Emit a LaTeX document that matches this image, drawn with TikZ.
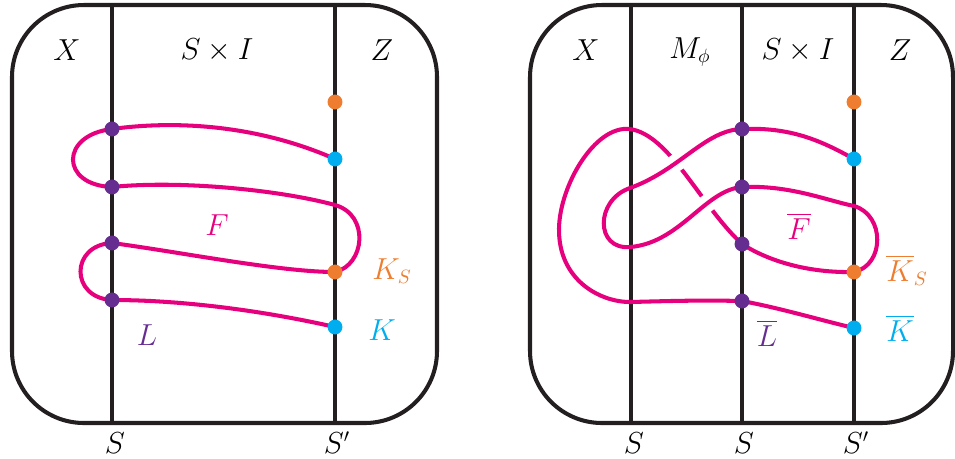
\documentclass[tikz,border=0pt]{standalone}
\usepackage{tikz}
\usetikzlibrary{positioning, calc}
\usepackage{amsmath}
\usepackage{xcolor}

\definecolor{knotpink}{HTML}{E6007E}
\definecolor{dotpurple}{HTML}{662D91}
\definecolor{dotcyan}{HTML}{00AEEF}
\definecolor{dotorange}{HTML}{EE7D2F}
\definecolor{linegray}{HTML}{231F20}

\pgfdeclarelayer{bg}
\pgfdeclarelayer{knot}
\pgfsetlayers{bg,knot,main}

\begin{document}
\begin{tikzpicture}[x=0.02cm, y=-0.02cm, font=\fontsize{16}{19}\selectfont,
    frame/.style={draw=linegray, line width=2.3pt, rounded corners=41pt},
    wall/.style={draw=linegray, line width=2.3pt},
    strand/.style={draw=knotpink, line width=2.3pt},
    pdot/.style={circle, fill=dotpurple, inner sep=0pt, minimum size=8.5pt},
    cdot/.style={circle, fill=dotcyan, inner sep=0pt, minimum size=8.5pt},
    odot/.style={circle, fill=dotorange, inner sep=0pt, minimum size=8.5pt}
]
  \useasboundingbox (0,0) rectangle (955,458);

  % Left picture: dots
  \node[pdot] (a1) at (112,129) {};
  \node[pdot] (a2) at (112,187) {};
  \node[pdot] (a3) at (112,243) {};
  \node[pdot] (a4) at (112,300) {};
  \node[odot] (b0) at (335,102) {};
  \node[cdot] (b1) at (335,159) {};
  \node[odot] (b2) at (335,272) {};
  \node[cdot] (b3) at (335,327) {};

  % Right picture: dots
  \node[pdot] (c1) at (742,129) {};
  \node[pdot] (c2) at (742,187) {};
  \node[pdot] (c3) at (742,244) {};
  \node[pdot] (c4) at (742,301) {};
  \node[odot] (e0) at (854,102) {};
  \node[cdot] (e1) at (854,159) {};
  \node[odot] (e2) at (854,272) {};
  \node[cdot] (e3) at (854,328) {};

  % Labels
  \node (lX) at (67,50) {$X$};
  \node (lSI) at (217,50) {$S\times I$};
  \node (lZ) at (382,50) {$Z$};
  \node (lS) at (115,443) {$S$};
  \node (lSp) at (337,443) {$S'$};
  \node[text=knotpink] (lF) at (217,225) {$F$};
  \node[text=dotpurple] (lL) at (147,335) {$L$};
  \node[text=dotorange] (lKS) at (392,271) {$K_S$};
  \node[text=dotcyan] (lK) at (382,330) {$K$};

  \node (rX) at (586,50) {$X$};
  \node (rM) at (690,52) {$M_\phi$};
  \node (rSI) at (798,50) {$S\times I$};
  \node (rZ) at (900,50) {$Z$};
  \node (rS1) at (634,443) {$S$};
  \node (rS2) at (744,443) {$S$};
  \node (rSp) at (856,443) {$S'$};
  \node[text=knotpink] (rF) at (799,226) {$\overline{F}$};
  \node[text=dotpurple] (rL) at (767,333) {$\overline{L}$};
  \node[text=dotorange] (rKS) at (907,270) {$\overline{K}_S$};
  \node[text=dotcyan] (rK) at (900,328) {$\overline{K}$};

  % Frames and walls
  \begin{pgfonlayer}{bg}
    \draw[frame] (12,5) rectangle (437,423);
    \draw[wall] (112,5) -- (112,423);
    \draw[wall] (335,5) -- (335,423);
    \draw[frame] (530,5) rectangle (953,423);
    \draw[wall] (631,5) -- (631,423);
    \draw[wall] (742,5) -- (742,423);
    \draw[wall] (854,5) -- (854,423);
  \end{pgfonlayer}

  \begin{pgfonlayer}{knot}
    % Surface F
    \draw[strand] (a1.center) .. controls (185,119) and (265,128) .. (b1.center);
    \draw[strand] (a1.center) .. controls (60,135) and (60,185) .. (a2.center);
    \draw[strand] (a2.center) .. controls (180,180) and (280,190) .. (335,205)
      .. controls (370,215) and (365,265) .. (b2.center);
    \draw[strand] (a3.center) .. controls (180,252) and (280,272) .. (b2.center);
    \draw[strand] (a3.center) .. controls (70,245) and (70,298) .. (a4.center);
    \draw[strand] (a4.center) .. controls (180,300) and (260,310) .. (b3.center);

    % Surface F bar
    \draw[strand] (c1.center) .. controls (790,127) and (820,140) .. (e1.center);
    \draw[strand] (c2.center) .. controls (790,185) and (825,200) .. (854,206)
      .. controls (885,215) and (885,265) .. (e2.center);
    \draw[strand] (c3.center) .. controls (770,262) and (810,273) .. (e2.center);
    \draw[strand] (c4.center) .. controls (780,308) and (820,320) .. (e3.center);

    % Under strand
    \draw[strand] (c3.center) .. controls (700,205) and (670,135) .. (630,129)
      .. controls (595,125) and (560,185) .. (559,228)
      .. controls (558,280) and (600,302) .. (630,302)
      .. controls (670,301) and (700,300) .. (c4.center);
    % Over strand
    \begin{scope}
      \clip (645,140) rectangle (735,232);
      \draw[white, line width=10pt] (c1.center) .. controls (705,130) and (680,170) .. (630,188)
        .. controls (595,200) and (595,250) .. (630,247)
        .. controls (680,243) and (705,190) .. (c2.center);
    \end{scope}
    \draw[strand] (c1.center) .. controls (705,130) and (680,170) .. (630,188)
      .. controls (595,200) and (595,250) .. (630,247)
      .. controls (680,243) and (705,190) .. (c2.center);
  \end{pgfonlayer}
\end{tikzpicture}
\end{document}
